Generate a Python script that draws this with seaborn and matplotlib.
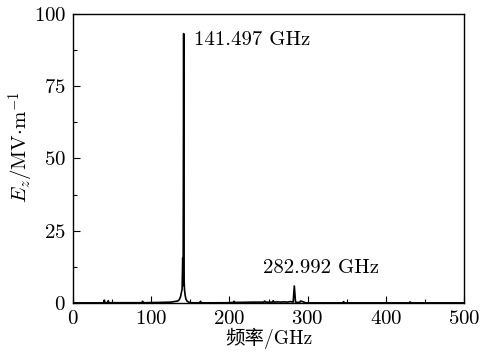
import matplotlib
matplotlib.use("Agg")
import matplotlib.pyplot as plt
import seaborn as sns
import pandas as pd
from matplotlib.ticker import MultipleLocator

# data
freq = [0, 39, 40, 41, 44, 45, 46, 80, 88, 89, 90, 110, 125, 134,
        136, 137.5, 138.5, 139.5, 140.3, 140.8, 141.497, 142.1, 142.6, 143.5,
        144.5, 146, 148, 150, 162, 163, 164, 200, 205, 206, 207, 230,
        240, 244, 245, 246, 255, 256, 257, 262, 266, 270, 274, 278, 281.5, 282.992,
        284.5, 288, 290, 291, 298, 345, 346, 347, 400, 430, 431, 432, 500]
amp = [0.05, 0.05, 1.0, 0.1, 0.1, 0.8, 0.1, 0.1, 0.1, 0.6, 0.1, 0.2, 0.3, 0.7,
       1.2, 2.2, 3.5, 4.8, 15.5, 6.0, 93.2, 7.5, 4.5, 2.5,
       1.3, 0.6, 0.3, 0.1, 0.05, 0.6, 0.05, 0.1, 0.2, 0.6, 0.2, 0.3,
       0.3, 0.3, 0.7, 0.3, 0.3, 0.8, 0.3, 0.4, 0.3, 0.4, 0.3, 0.5, 0.3, 5.9,
       0.3, 0.2, 0.2, 0.7, 0.05, 0.05, 0.5, 0.05, 0.05, 0.05, 0.4, 0.05, 0.05]
peak_labels = ["141.497 GHz", "282.992 GHz"]
label_pos = [(155, 91), (243, 12)]
xticks = [0, 100, 200, 300, 400, 500]
yticks = [0, 25, 50, 75, 100]

sns.set_theme(style="white")
plt.rcParams['font.family'] = ['cmr10', 'Noto Sans CJK SC']
plt.rcParams['mathtext.fontset'] = 'cm'
plt.rcParams['axes.formatter.use_mathtext'] = True

fig = plt.figure(figsize=(4.9, 3.58), dpi=100)
ax = fig.add_axes([0.149, 0.1536, 0.798, 0.8074])

df = pd.DataFrame({"f": freq, "a": amp})
sns.lineplot(data=df, x="f", y="a", ax=ax, color="black", linewidth=1.2,
             sort=False, estimator=None)

ax.set_xlim(0, 500)
ax.set_ylim(0, 100)
ax.set_xticks(xticks)
ax.set_yticks(yticks)
ax.xaxis.set_minor_locator(MultipleLocator(50))
ax.yaxis.set_minor_locator(MultipleLocator(12.5))
ax.tick_params(axis="both", which="both", direction="in", bottom=True, left=True,
               top=False, right=False, labelsize=15, colors="black", pad=5)
ax.tick_params(which="major", length=5, width=0.8)
ax.tick_params(which="minor", length=3, width=0.8)
for s in ax.spines.values():
    s.set_color("black")
    s.set_linewidth(1.0)

ax.set_xlabel("频率/GHz", fontsize=14, color="black", labelpad=0)
ax.set_ylabel(r"$E_z/\mathrm{MV{\cdot}m}^{-1}$", fontsize=15, color="black")
ax.yaxis.set_label_coords(-0.095, 0.54)

for txt, (x, y) in zip(peak_labels, label_pos):
    ax.text(x, y, txt, fontsize=15, color="black", va="center", ha="left")

fig.savefig("out.png", dpi=100)
